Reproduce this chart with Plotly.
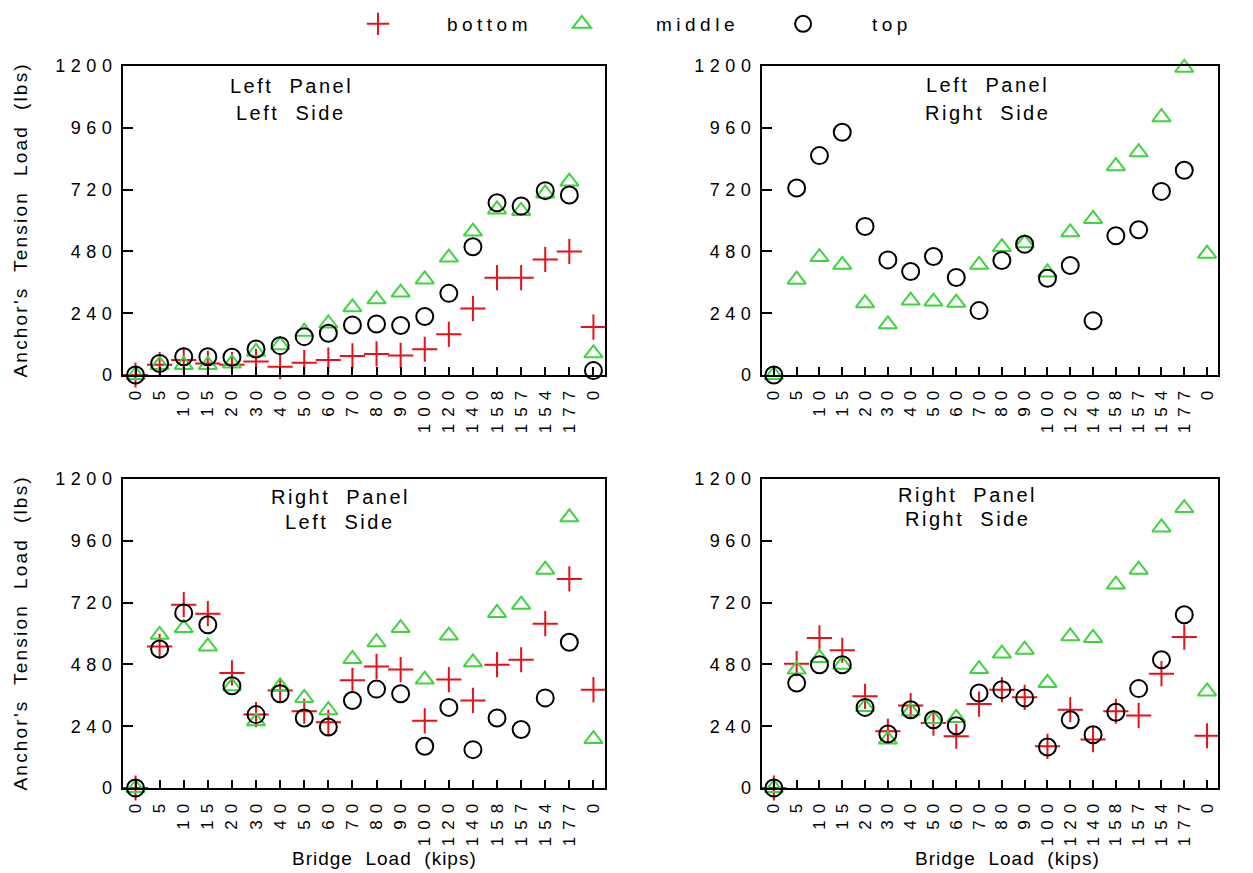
import plotly.graph_objects as go

# ---------------- data ----------------
categories = ["0", "5", "10", "15", "20", "30", "40", "50", "60", "70",
              "80", "90", "100", "120", "140", "158", "157", "154", "177", "0"]
y_tick_values = [0, 240, 480, 720, 960, 1200]

# Left Panel / Left Side
lpls_bottom = [0, 40, 58, 45, 40, 52, 32, 48, 58, 74, 82, 76, 100, 158, 258, 378, 378, 449, 480, 186]
lpls_middle = [0, 39, 39, 39, 45, 90, 116, 168, 200, 263, 294, 320, 371, 456, 557, 643, 637, 705, 751, 84]
lpls_top    = [0, 45, 71, 71, 69, 101, 114, 149, 162, 194, 198, 192, 227, 317, 498, 669, 656, 716, 699, 17]

# Left Panel / Right Side (no bottom readings)
lprs_bottom = [None] * 20
lprs_middle = [0, 370, 458, 428, 279, 197, 289, 285, 281, 428, 497, 512, 398, 554, 606, 811, 865, 1001, 1193, 471]
lprs_top    = [0, 726, 852, 943, 577, 447, 402, 460, 379, 250, 445, 508, 376, 425, 211, 541, 564, 713, 795, None]

# Right Panel / Left Side
rpls_bottom = [0, 550, 712, 677, 447, 285, 379, 298, 255, 418, 472, 460, 261, 421, 340, 479, 498, 638, 812, 382]
rpls_middle = [0, 595, 621, 550, 395, 259, 395, 350, 302, 501, 566, 621, 421, 592, 488, 680, 712, 848, 1051, 190]
rpls_top    = [0, 540, 680, 634, 397, 285, 366, 272, 237, 340, 384, 366, 162, 313, 149, 272, 227, 350, 566, None]

# Right Panel / Right Side
rprs_bottom = [0, 483, 583, 535, 356, 220, 320, 252, 201, 326, 382, 352, 162, 304, 188, 298, 282, 444, 586, 203]
rprs_middle = [0, 460, 505, 479, 315, 188, 298, 268, 272, 462, 522, 537, 408, 589, 583, 790, 848, 1012, 1087, 375]
rprs_top    = [0, 408, 479, 479, 313, 210, 304, 265, 242, 369, 382, 350, 159, 265, 207, 294, 386, 498, 673, None]

panel_titles = [["Left  Panel", "Left  Side"], ["Left  Panel", "Right  Side"],
                ["Right  Panel", "Left  Side"], ["Right  Panel", "Right  Side"]]
series_names = ["bottom", "middle", "top"]
y_title = "Anchor's  Tension  Load  (lbs)"
x_title = "Bridge  Load  (kips)"

# ---------------- style / layout geometry ----------------
FONT = "Liberation Sans, Arial, sans-serif"
RED = "#e8101a"
GREEN = "#3fd43f"
BLACK = "#000000"

OFF = 8                      # page body margin in the browser
W, H = 1253 - OFF, 873 - OFF
ML, MR, MT, MB = 52, 12, 42, 42
PW, PH = W - ML - MR, H - MT - MB


def fx(px):  # screen px -> paper fraction
    return (px - OFF - ML) / PW


def fy(py):
    return (H - MB - (py - OFF)) / PH


def sp(text, px=3):
    return '<span style="letter-spacing:%spx">%s</span>' % (px, text)


NB = "\u00a0"
legend_labels = [sp(NB * 5 + "bottom" + NB * 2, 4.5) + NB,
                 NB + sp(NB * 5 + "middle" + NB * 4, 4.5),
                 sp(NB * 5 + "top", 4.5)]

cols = [(123, 605), (762, 1218)]
rows = [(66, 375), (479, 788)]

panels = [
    dict(data=[lpls_bottom, lpls_middle, lpls_top], col=0, row=0,
         title=panel_titles[0], tx=291, ty=[86, 113]),
    dict(data=[lprs_bottom, lprs_middle, lprs_top], col=1, row=0,
         title=panel_titles[1], tx=987, ty=[85, 113]),
    dict(data=[rpls_bottom, rpls_middle, rpls_top], col=0, row=1,
         title=panel_titles[2], tx=340, ty=[497, 522]),
    dict(data=[rprs_bottom, rprs_middle, rprs_top], col=1, row=1,
         title=panel_titles[3], tx=967, ty=[495, 519]),
]

markers = [
    dict(symbol="cross-thin-open", size=18, color=RED, line=dict(color=RED, width=2)),
    dict(symbol="triangle-up-open", size=16, color=GREEN, line=dict(color=GREEN, width=2)),
    dict(symbol="circle-open", size=17, color=BLACK, line=dict(color=BLACK, width=2)),
]

fig = go.Figure()
xpos = list(range(len(categories)))
annotations = []

for i, p in enumerate(panels):
    n = i + 1
    xa = "x" if n == 1 else "x%d" % n
    ya = "y" if n == 1 else "y%d" % n
    c0, c1 = cols[p["col"]]
    r0, r1 = rows[p["row"]]
    for s, vals in enumerate(p["data"]):
        fig.add_trace(go.Scatter(
            x=xpos, y=vals, mode="markers", xaxis=xa, yaxis=ya,
            name=legend_labels[s],
            legendgroup=series_names[s], showlegend=(i == 0),
            marker=markers[s], cliponaxis=False))
    axis_common = dict(showline=True, linecolor="black", linewidth=2, mirror=True,
                       showgrid=False, zeroline=False, ticks="inside",
                       tickcolor="black", tickwidth=2, automargin=False)
    fig.layout["xaxis%d" % n] = dict(
        axis_common, domain=[fx(c0), fx(c1)], anchor=ya, range=[-0.52, 19.48],
        tickmode="array", tickvals=xpos, ticktext=[sp(c, 7) for c in categories],
        tickangle=-90, ticklen=8, ticklabelstandoff=0,
        tickfont=dict(family=FONT, size=17, color="black"))
    fig.layout["yaxis%d" % n] = dict(
        axis_common, domain=[fy(r1), fy(r0)], anchor=xa, range=[0, 1200],
        tickmode="array", tickvals=y_tick_values,
        ticktext=[sp(str(v), 5.5) for v in y_tick_values],
        ticklen=10, ticklabelstandoff=0,
        tickfont=dict(family=FONT, size=18, color="black"))
    for line, yy in zip(p["title"], p["ty"]):
        annotations.append(dict(text=sp(line, 2.5), x=fx(p["tx"]), y=fy(yy),
                                xref="paper", yref="paper", showarrow=False,
                                xanchor="center", yanchor="middle",
                                font=dict(family=FONT, size=20, color="black")))

# y axis titles
for (r0, r1) in rows:
    annotations.append(dict(text=sp(y_title, 2.2), x=fx(20), y=fy((r0 + r1) / 2),
                            xref="paper", yref="paper", showarrow=False, textangle=-90,
                            xanchor="center", yanchor="middle",
                            font=dict(family=FONT, size=19, color="black")))
# x axis titles
for xc in [384, 1007]:
    annotations.append(dict(text=sp(x_title, 1), x=fx(xc), y=fy(858),
                            xref="paper", yref="paper", showarrow=False,
                            xanchor="center", yanchor="middle",
                            font=dict(family=FONT, size=19, color="black")))

fig.update_layout(
    width=W, height=H, autosize=False,
    margin=dict(l=ML, r=MR, t=MT, b=MB),
    paper_bgcolor="white", plot_bgcolor="white",
    annotations=annotations,
    showlegend=True,
    legend=dict(orientation="h", xref="container", yref="container",
                x=350 / W, y=1 - (24 - OFF) / H, xanchor="left", yanchor="middle",
                font=dict(family=FONT, size=19, color="black"),
                bgcolor="rgba(0,0,0,0)"),
)

fig.write_html("out.html")
